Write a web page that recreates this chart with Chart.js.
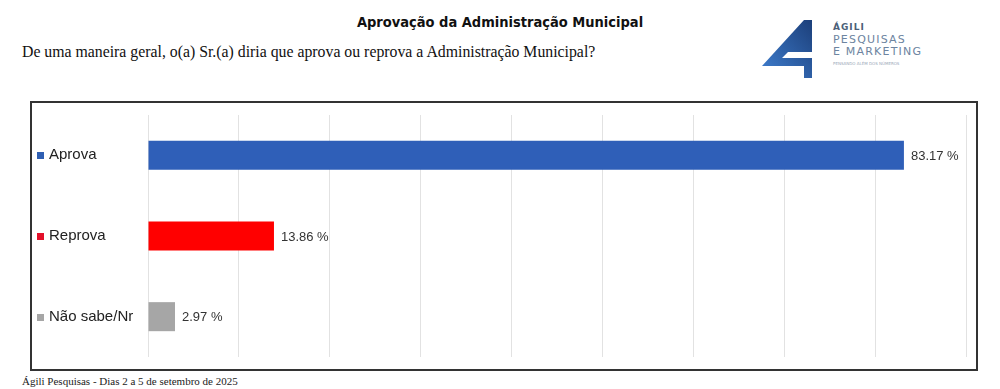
<!DOCTYPE html>
<html lang="pt">
<head>
    <meta charset="UTF-8">
    <title>Aprovação da Administração Municipal</title>
    <script src="https://cdn.jsdelivr.net/npm/chart.js"></script>
    <style>
        body {
            margin: 0;
            width: 1000px;
            height: 389px;
            background: #fff;
            position: relative;
            overflow: hidden;
        }
        .title {
            position: absolute;
            left: 0;
            width: 1000px;
            top: 14px;
            text-align: center;
            font-family: "DejaVu Sans Condensed", "DejaVu Sans", sans-serif;
            font-weight: bold;
            font-size: 14.5px;
            color: #111;
        }
        .question {
            position: absolute;
            left: 22px;
            top: 43px;
            font-family: "Liberation Serif", serif;
            font-size: 15.8px;
            color: #111;
        }
        .footer {
            position: absolute;
            left: 22px;
            top: 375px;
            font-family: "Liberation Serif", serif;
            font-size: 11px;
            color: #222;
        }
        .logo {
            position: absolute;
            left: 760px;
            top: 16px;
        }
        .chartBox {
            position: absolute;
            left: 30px;
            top: 101px;
            width: 944px;
            height: 266px;
            border: 2px solid #333;
        }
    </style>
</head>
<body>
    <div class="title">Aprovação da Administração Municipal</div>
    <div class="question">De uma maneira geral, o(a) Sr.(a) diria que aprova ou reprova a Administração Municipal?</div>
    <svg class="logo" width="180" height="66" viewBox="0 0 180 66">
        <defs>
            <linearGradient id="g1" x1="0" y1="1" x2="1" y2="0">
                <stop offset="0" stop-color="#3f7fd0"/>
                <stop offset="1" stop-color="#1c3f7a"/>
            </linearGradient>
        </defs>
        <polygon points="2,50 44,4 52,4 52,36 28,36 22,42 52,42 52,62 44,62 44,50" fill="url(#g1)"/>
        <text x="73" y="14" font-family="DejaVu Sans" font-weight="bold" font-size="9" fill="#4c5f78" letter-spacing="1">ÁGILI</text>
        <text x="73" y="27" font-family="DejaVu Sans" font-size="11" fill="#6d84a0" letter-spacing="1.2">PESQUISAS</text>
        <text x="73" y="39" font-family="DejaVu Sans" font-size="11" fill="#6d84a0" letter-spacing="1.2">E MARKETING</text>
        <text x="73" y="49" font-family="DejaVu Sans" font-size="4" fill="#9aa8b8">PENSANDO ALÉM DOS NÚMEROS</text>
    </svg>
    <div class="chartBox"><canvas id="chart" width="944" height="266"></canvas></div>
    <div class="footer">Ágili Pesquisas - Dias 2 a 5 de setembro de 2025</div>

    <script>
        // chart data
        const categories = ['Aprova', 'Reprova', 'Não sabe/Nr'];
        const values = [83.17, 13.86, 2.97];
        const barColors = ['#2f5fb8', '#ff0000', '#a6a6a6'];
        const markerColors = ['#2f5fb3', '#e3102a', '#a6a6a6'];

        // little coloured squares in front of the category labels
        const markerPlugin = {
            id: 'markers',
            afterDraw(chart) {
                const ctx = chart.ctx;
                const yScale = chart.scales.y;
                ctx.save();
                yScale.ticks.forEach((t, i) => {
                    const y = yScale.getPixelForTick(i);
                    ctx.fillStyle = markerColors[i];
                    ctx.fillRect(yScale.left - 12, Math.round(y - 3), 7, 7);
                });
                ctx.restore();
            }
        };

        // percentage labels after each bar
        const valueLabels = {
            id: 'valueLabels',
            afterDatasetsDraw(chart) {
                const ctx = chart.ctx;
                ctx.save();
                ctx.font = '13px "Liberation Sans", Arial, sans-serif';
                ctx.fillStyle = '#333';
                ctx.textAlign = 'left';
                ctx.textBaseline = 'middle';
                chart.getDatasetMeta(0).data.forEach((bar, i) => {
                    ctx.fillText(values[i].toFixed(2) + ' %', bar.x + 7, bar.y + 1);
                });
                ctx.restore();
            }
        };

        new Chart(document.getElementById('chart'), {
            type: 'bar',
            data: {
                labels: categories,
                datasets: [{
                    data: values,
                    backgroundColor: barColors,
                    borderWidth: 0,
                    categoryPercentage: 1,
                    barPercentage: 0.36
                }]
            },
            options: {
                indexAxis: 'y',
                responsive: false,
                animation: false,
                layout: { padding: { left: 17, right: 10, top: 7, bottom: 11 } },
                plugins: {
                    legend: { display: false },
                    tooltip: { enabled: false }
                },
                scales: {
                    x: {
                        min: 0,
                        max: 90,
                        ticks: { display: false, stepSize: 10 },
                        grid: { color: '#e2e2e2', drawTicks: false },
                        border: { display: false }
                    },
                    y: {
                        grid: { display: false },
                        border: { display: false },
                        ticks: {
                            crossAlign: 'far',
                            color: '#222',
                            font: { family: '"Liberation Sans", Arial, sans-serif', size: 15 }
                        },
                        afterFit(scale) { scale.width = 99; }
                    }
                }
            },
            plugins: [markerPlugin, valueLabels]
        });
    </script>
</body>
</html>
